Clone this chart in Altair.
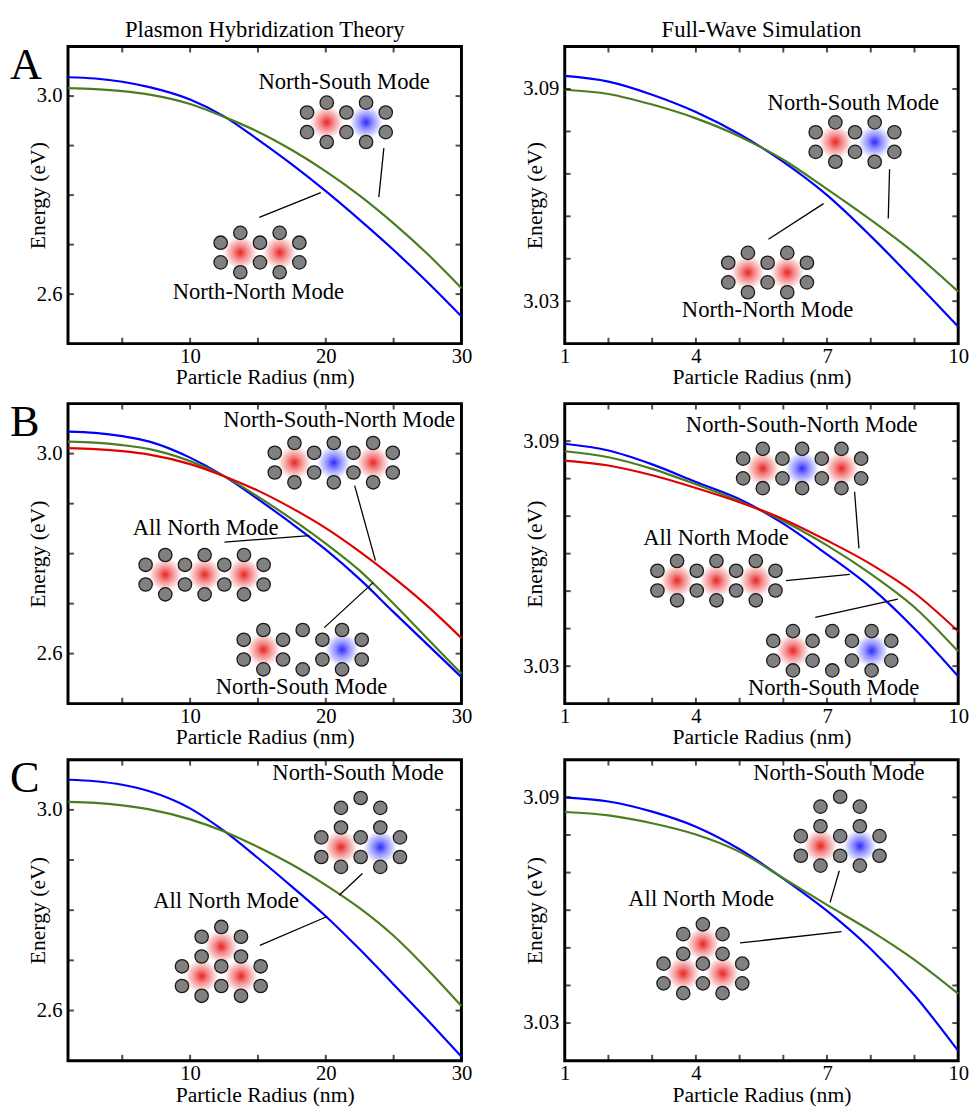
import altair as alt
import pandas as pd

FONT = "Liberation Serif"
PANEL_W = 400
ROW_H = {"A": 302, "B": 305, "C": 306}

# particle radius (nm) at which the curves were read
R_THEORY = [1, 3, 5, 7, 10, 12.5, 15, 17.5, 20, 22.5, 25, 27.5, 30]
R_SIM = [1, 2, 3, 4, 5, 6, 7, 8, 9, 10]

# energies (eV)
A_THEORY_NN = [3.038, 3.0355, 3.029, 3.018, 2.993, 2.959, 2.912, 2.862, 2.808, 2.750, 2.689, 2.624, 2.555]
A_THEORY_NS = [3.016, 3.014, 3.010, 3.003, 2.984, 2.958, 2.928, 2.891, 2.848, 2.799, 2.743, 2.681, 2.612]
A_SIM_NN = [3.0937, 3.0921, 3.0884, 3.0835, 3.0772, 3.0694, 3.0600, 3.0484, 3.0358, 3.0228]
A_SIM_NS = [3.0898, 3.0886, 3.0856, 3.0817, 3.0766, 3.0700, 3.0617, 3.0530, 3.0436, 3.0327]

B_THEORY_AN = [3.044, 3.0415, 3.035, 3.024, 2.992, 2.955, 2.909, 2.860, 2.808, 2.749, 2.683, 2.618, 2.553]
B_THEORY_NS = [3.024, 3.022, 3.017, 3.009, 2.985, 2.955, 2.914, 2.869, 2.820, 2.766, 2.700, 2.630, 2.560]
B_THEORY_NSN = [3.011, 3.009, 3.005, 2.998, 2.979, 2.955, 2.926, 2.891, 2.851, 2.804, 2.752, 2.695, 2.631]
B_SIM_AN = [3.0893, 3.0875, 3.0838, 3.0791, 3.0745, 3.0680, 3.0598, 3.0510, 3.0400, 3.0273]
B_SIM_NS = [3.0873, 3.0857, 3.0826, 3.0785, 3.0740, 3.0687, 3.0622, 3.0546, 3.0457, 3.0339]
B_SIM_NSN = [3.0848, 3.0835, 3.0809, 3.0775, 3.0737, 3.0692, 3.0635, 3.0572, 3.0495, 3.0393]

C_THEORY_AN = [3.060, 3.057, 3.050, 3.037, 3.003, 2.958, 2.904, 2.847, 2.788, 2.722, 2.652, 2.581, 2.508]
C_THEORY_NS = [3.016, 3.014, 3.009, 3.001, 2.981, 2.957, 2.926, 2.891, 2.850, 2.804, 2.749, 2.682, 2.609]
C_SIM_AN = [3.0900, 3.0889, 3.0862, 3.0822, 3.0762, 3.0684, 3.0598, 3.0497, 3.0374, 3.0226]
C_SIM_NS = [3.0861, 3.0852, 3.0831, 3.0801, 3.0755, 3.0685, 3.0614, 3.0545, 3.0468, 3.0378]

# axes
THEORY_X = [1, 30]
THEORY_Y = [2.5, 3.1]
SIM_X = [1, 10]
A_SIM_Y = [3.018, 3.102]
BC_SIM_Y = [3.02, 3.10]
THEORY_XTICKS = [5, 10, 15, 20, 25]
THEORY_XLABELS = [10, 20, 30]
THEORY_YTICKS = [2.6, 2.7, 2.8, 2.9, 3.0]
THEORY_YLABELS = [2.6, 3.0]
SIM_XTICKS = [2, 3, 4, 5, 6, 7, 8, 9]
SIM_XLABELS = [1, 4, 7, 10]
A_SIM_YTICKS = [3.03, 3.042, 3.054, 3.066, 3.078, 3.09]
BC_SIM_YTICKS = [3.03, 3.04, 3.05, 3.06, 3.07, 3.08, 3.09]
SIM_YLABELS = [3.03, 3.09]

# annotations: labels, cluster sketches and leader lines (data units)
A_THEORY_TEXT = ["North-South Mode", "North-North Mode"]
A_THEORY_TEXT_X = [21.35, 15.03]
A_THEORY_TEXT_Y = [3.015, 2.591]
A_THEORY_SKETCH_X = [21.52, 15.15]
A_THEORY_SKETCH_Y = [2.947, 2.684]
A_THEORY_LEADERS = [[24.28, 2.895, 23.91, 2.796], [15.10, 2.755, 19.63, 2.805]]

A_SIM_TEXT = ["North-South Mode", "North-North Mode"]
A_SIM_TEXT_X = [7.60, 5.64]
A_SIM_TEXT_Y = [3.0842, 3.0254]
A_SIM_SKETCH_X = [7.64, 5.64]
A_SIM_SKETCH_Y = [3.0750, 3.0381]
A_SIM_LEADERS = [[8.43, 3.0673, 8.40, 3.0534], [5.66, 3.0475, 6.92, 3.0576]]

A_SKETCH_KIND = ["dimer", "dimer"]
A_SKETCH_GLOW = [["red", "blue"], ["red", "red"]]

B_THEORY_TEXT = ["North-South-North Mode", "All North Mode", "North-South Mode"]
B_THEORY_TEXT_X = [20.99, 11.14, 18.21]
B_THEORY_TEXT_Y = [3.053, 2.837, 2.519]
B_THEORY_SKETCH_X = [20.59, 11.07, 18.30]
B_THEORY_SKETCH_Y = [2.982, 2.758, 2.608]
B_THEORY_LEADERS = [[22.13, 2.936, 23.66, 2.786], [12.53, 2.823, 18.79, 2.836],
                    [19.89, 2.652, 23.49, 2.742]]

B_SIM_TEXT = ["North-South-North Mode", "All North Mode", "North-South Mode"]
B_SIM_TEXT_X = [6.42, 4.46, 7.15]
B_SIM_TEXT_Y = [3.0925, 3.0624, 3.0223]
B_SIM_SKETCH_X = [6.43, 4.47, 7.12]
B_SIM_SKETCH_Y = [3.0827, 3.0528, 3.0341]
B_SIM_LEADERS = [[7.63, 3.0765, 7.73, 3.0614], [6.06, 3.0528, 7.52, 3.0545],
                 [6.73, 3.0430, 8.62, 3.0479]]

B_SKETCH_KIND = ["trimer", "trimer", "trimer"]
B_SKETCH_GLOW = [["red", "blue", "red"], ["red", "red", "red"], ["red", None, "blue"]]

C_THEORY_TEXT = ["North-South Mode", "All North Mode"]
C_THEORY_TEXT_X = [22.38, 12.65]
C_THEORY_TEXT_Y = [3.060, 2.804]
C_THEORY_SKETCH_X = [22.57, 12.30]
C_THEORY_SKETCH_Y = [2.955, 2.698]
C_THEORY_LEADERS = [[22.70, 2.873, 20.99, 2.830], [15.14, 2.730, 20.06, 2.787]]

C_SIM_TEXT = ["North-South Mode", "All North Mode"]
C_SIM_TEXT_X = [7.27, 4.12]
C_SIM_TEXT_Y = [3.0946, 3.0612]
C_SIM_SKETCH_X = [7.30, 4.16]
C_SIM_SKETCH_Y = [3.0810, 3.0471]
C_SIM_LEADERS = [[7.28, 3.0705, 7.07, 3.0621], [5.01, 3.0513, 7.33, 3.0543]]

C_SKETCH_KIND = ["triangle", "triangle"]
C_SKETCH_GLOW = [[None, "red", "blue"], ["red", "red", "red"]]

MODES = ["North-North", "All North", "North-South", "North-South-North"]
MODE_COLORS = ["#0000ff", "#0000ff", "#4a7d1f", "#e00000"]
GLOW_RGB = {"red": "232,20,20", "blue": "30,30,255"}

# cluster geometry, in units of UNIT_PX pixels
UNIT_PX = 20
RING = [(-1, 0.5), (-1, -0.5), (1, 0.5), (1, -0.5), (0, 1), (0, -1)]
RING_CENTRES = {
    "dimer": [(-1, 0), (1, 0)],
    "trimer": [(-2, 0), (0, 0), (2, 0)],
    "triangle": [(0, 0.75), (-1, -0.75), (1, -0.75)],
}


def glow_fill(rgb):
    return {"gradient": "radial", "x1": 0.5, "y1": 0.5, "r1": 0,
            "x2": 0.5, "y2": 0.5, "r2": 0.5,
            "stops": [{"offset": 0, "color": f"rgba({rgb},0.95)"},
                      {"offset": 0.4, "color": f"rgba({rgb},0.5)"},
                      {"offset": 1, "color": f"rgba({rgb},0)"}]}


def sketch_frames(xs, ys, kinds, glows, xdom, ydom, h):
    sx = UNIT_PX * (xdom[1] - xdom[0]) / PANEL_W
    sy = UNIT_PX * (ydom[1] - ydom[0]) / h
    parts, spots = [], []
    for x0, y0, kind, glow in zip(xs, ys, kinds, glows):
        seen = set()
        for (cx, cy), col in zip(RING_CENTRES[kind], glow):
            if col:
                spots.append({"x": x0 + cx * sx, "y": y0 + cy * sy, "glow": col})
            for vx, vy in RING:
                key = (cx + vx, cy + vy)
                if key not in seen:
                    seen.add(key)
                    parts.append({"x": x0 + key[0] * sx, "y": y0 + key[1] * sy})
    return pd.DataFrame(parts), pd.DataFrame(spots)


def panel(r, series, xdom, ydom, xticks, xlabels, yticks, ylabels, yfmt,
          texts, sketches, leaders, h, letter=None, title=None):
    X = alt.X("x:Q", scale=alt.Scale(domain=xdom, nice=False, zero=False),
              axis=alt.Axis(values=xlabels, format="d", title="Particle Radius (nm)",
                            titlePadding=1))
    Y = alt.Y("y:Q", scale=alt.Scale(domain=ydom, nice=False, zero=False),
              axis=alt.Axis(values=ylabels, format=yfmt, title="Energy (eV)",
                            titleX=-24, titleY=h / 2, titleAngle=270,
                            titleBaseline="alphabetic"))

    rows = []
    for name, vals in series:
        rows += [{"x": a, "y": b, "mode": name} for a, b in zip(r, vals)]
    lines = alt.Chart(pd.DataFrame(rows)).mark_line(
        strokeWidth=2.2, interpolate="monotone").encode(
            x=X, y=Y,
            color=alt.Color("mode:N", legend=None,
                            scale=alt.Scale(domain=MODES, range=MODE_COLORS)))

    parts, spots = sketch_frames(*sketches, xdom, ydom, h)
    layers = [lines]
    for col in ["red", "blue"]:
        sub = spots[spots["glow"] == col]
        if len(sub):
            layers.append(alt.Chart(sub).mark_circle(
                size=1150, opacity=1, fill=glow_fill(GLOW_RGB[col]), strokeWidth=0
            ).encode(x=X, y=Y))
    layers.append(alt.Chart(parts).mark_circle(
        size=185, opacity=1, fill="#808080", stroke="#1a1a1a", strokeWidth=1.3
    ).encode(x=X, y=Y))

    lead = pd.DataFrame(leaders, columns=["x", "y", "x2", "y2"])
    layers.append(alt.Chart(lead).mark_rule(color="black", strokeWidth=1.3).encode(
        x=X, y=Y, x2="x2:Q", y2="y2:Q"))

    note = pd.DataFrame({"x": texts[1], "y": texts[2], "t": texts[0]})
    layers.append(alt.Chart(note).mark_text(
        font=FONT, fontSize=23, align="center", baseline="alphabetic", color="black"
    ).encode(x=X, y=Y, text="t:N"))

    xt = alt.Chart(pd.DataFrame({"x": xticks})).mark_tick(
        orient="vertical", size=6, thickness=2, color="black")
    yt = alt.Chart(pd.DataFrame({"y": yticks})).mark_tick(
        orient="horizontal", size=6, thickness=2, color="black")
    layers += [xt.encode(x=X, y=alt.value(h - 3)), xt.encode(x=X, y=alt.value(3)),
               yt.encode(y=Y, x=alt.value(3)), yt.encode(y=Y, x=alt.value(PANEL_W - 3))]

    if letter:
        layers.append(alt.Chart(pd.DataFrame({"t": [letter]})).mark_text(
            font=FONT, fontSize=45, align="left", baseline="alphabetic", color="black"
        ).encode(text="t:N", x=alt.value(-59), y=alt.value(33)))
    if title:
        layers.append(alt.Chart(pd.DataFrame({"t": [title]})).mark_text(
            font=FONT, fontSize=23, align="center", baseline="top", color="black"
        ).encode(text="t:N", x=alt.value(PANEL_W / 2), y=alt.value(-28)))

    return alt.layer(*layers).properties(width=PANEL_W, height=h)


def theory(row, series, texts, sketches, leaders, title=None):
    return panel(R_THEORY, series, THEORY_X, THEORY_Y, THEORY_XTICKS, THEORY_XLABELS,
                 THEORY_YTICKS, THEORY_YLABELS, ".1f", texts, sketches, leaders,
                 ROW_H[row], letter=row, title=title)


def sim(row, series, ydom, yticks, texts, sketches, leaders, title=None):
    return panel(R_SIM, series, SIM_X, ydom, SIM_XTICKS, SIM_XLABELS,
                 yticks, SIM_YLABELS, ".2f", texts, sketches, leaders,
                 ROW_H[row], title=title)


row_a = alt.hconcat(
    theory("A", [("North-North", A_THEORY_NN), ("North-South", A_THEORY_NS)],
           (A_THEORY_TEXT, A_THEORY_TEXT_X, A_THEORY_TEXT_Y),
           (A_THEORY_SKETCH_X, A_THEORY_SKETCH_Y, A_SKETCH_KIND, A_SKETCH_GLOW),
           A_THEORY_LEADERS, title="Plasmon Hybridization Theory"),
    sim("A", [("North-North", A_SIM_NN), ("North-South", A_SIM_NS)],
        A_SIM_Y, A_SIM_YTICKS,
        (A_SIM_TEXT, A_SIM_TEXT_X, A_SIM_TEXT_Y),
        (A_SIM_SKETCH_X, A_SIM_SKETCH_Y, A_SKETCH_KIND, A_SKETCH_GLOW),
        A_SIM_LEADERS, title="Full-Wave Simulation"),
    spacing=48)

row_b = alt.hconcat(
    theory("B", [("All North", B_THEORY_AN), ("North-South", B_THEORY_NS),
                 ("North-South-North", B_THEORY_NSN)],
           (B_THEORY_TEXT, B_THEORY_TEXT_X, B_THEORY_TEXT_Y),
           (B_THEORY_SKETCH_X, B_THEORY_SKETCH_Y, B_SKETCH_KIND, B_SKETCH_GLOW),
           B_THEORY_LEADERS),
    sim("B", [("All North", B_SIM_AN), ("North-South", B_SIM_NS),
              ("North-South-North", B_SIM_NSN)],
        BC_SIM_Y, BC_SIM_YTICKS,
        (B_SIM_TEXT, B_SIM_TEXT_X, B_SIM_TEXT_Y),
        (B_SIM_SKETCH_X, B_SIM_SKETCH_Y, B_SKETCH_KIND, B_SKETCH_GLOW),
        B_SIM_LEADERS),
    spacing=48)

row_c = alt.hconcat(
    theory("C", [("All North", C_THEORY_AN), ("North-South", C_THEORY_NS)],
           (C_THEORY_TEXT, C_THEORY_TEXT_X, C_THEORY_TEXT_Y),
           (C_THEORY_SKETCH_X, C_THEORY_SKETCH_Y, C_SKETCH_KIND, C_SKETCH_GLOW),
           C_THEORY_LEADERS),
    sim("C", [("All North", C_SIM_AN), ("North-South", C_SIM_NS)],
        BC_SIM_Y, BC_SIM_YTICKS,
        (C_SIM_TEXT, C_SIM_TEXT_X, C_SIM_TEXT_Y),
        (C_SIM_SKETCH_X, C_SIM_SKETCH_Y, C_SKETCH_KIND, C_SKETCH_GLOW),
        C_SIM_LEADERS),
    spacing=48)

chart = alt.vconcat(
    row_a, alt.vconcat(row_b, row_c, spacing=5), spacing=9
).properties(
    padding=0, background="white"
).configure_view(
    stroke="black", strokeWidth=3
).configure_axis(
    labelFont=FONT, labelFontSize=21, labelColor="black", labelFlush=False,
    titleFont=FONT, titleFontSize=22, titleFontWeight="normal", titleColor="black",
    grid=False, ticks=False, tickSize=0, domain=False, labelOverlap=False
).configure_axisX(labelPadding=2).configure_axisY(labelPadding=6)

chart.save("out.html", embed_options={"renderer": "svg", "actions": False})
